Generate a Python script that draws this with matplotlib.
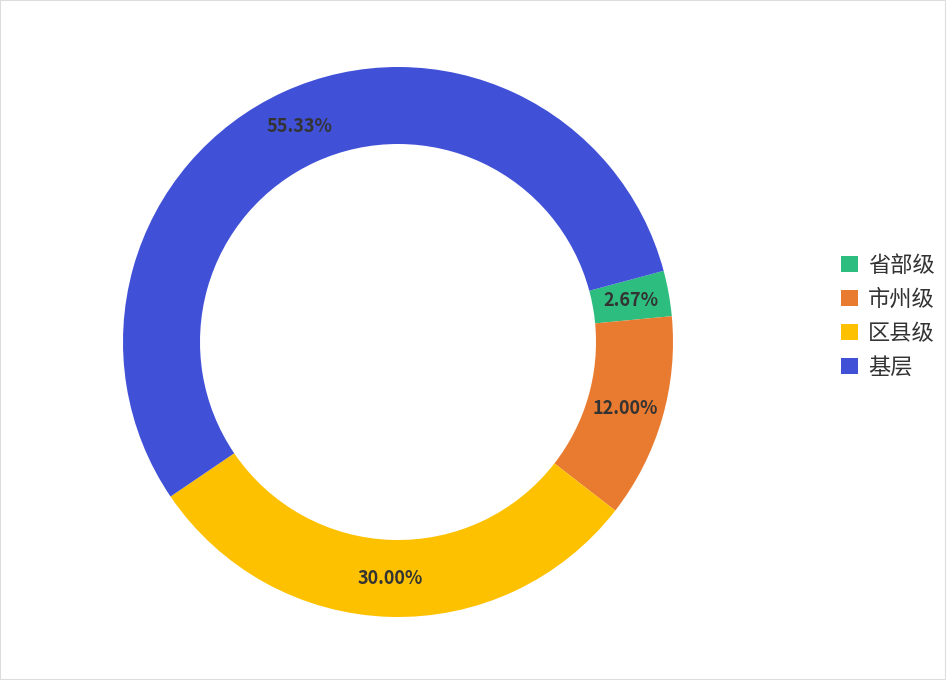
import matplotlib.pyplot as plt
from matplotlib.patches import Rectangle

plt.rcParams['font.family'] = ['Noto Sans CJK SC', 'DejaVu Sans']

# 数据
labels = ['省部级', '市州级', '区县级', '基层']
values = [2.67, 12.00, 30.00, 55.33]
colors = ['#2dbd7f', '#e97b30', '#fdc100', '#4051d8']

fig = plt.figure(figsize=(9.46, 6.8), dpi=100)
fig.patches.append(Rectangle((0, 0), 1, 1, transform=fig.transFigure,
                             fill=False, edgecolor='#dddddd', linewidth=1.5))

# 环形图
r = 275
cx, cy = 398, 680 - 342
ax = fig.add_axes([(cx - r) / 946, (cy - r) / 680, 2 * r / 946, 2 * r / 680])
wedges, texts, autotexts = ax.pie(
    values, colors=colors, startangle=15, counterclock=False,
    radius=1.0, wedgeprops=dict(width=0.28, edgecolor='none'),
    autopct=lambda p: f'{p:.2f}%', pctdistance=0.86,
    textprops=dict(color='#333333', fontsize=13, fontweight='bold'))
ax.set_xlim(-1, 1)
ax.set_ylim(-1, 1)
ax.set_aspect('equal')

# 图例
fig.legend(wedges, labels, loc='center left', bbox_to_anchor=(0.868, 0.535),
           frameon=False, fontsize=16, handlelength=0.75, handleheight=0.75,
           handletextpad=0.45, labelspacing=0.5, labelcolor='#333333')

fig.savefig('out.png', dpi=100)
